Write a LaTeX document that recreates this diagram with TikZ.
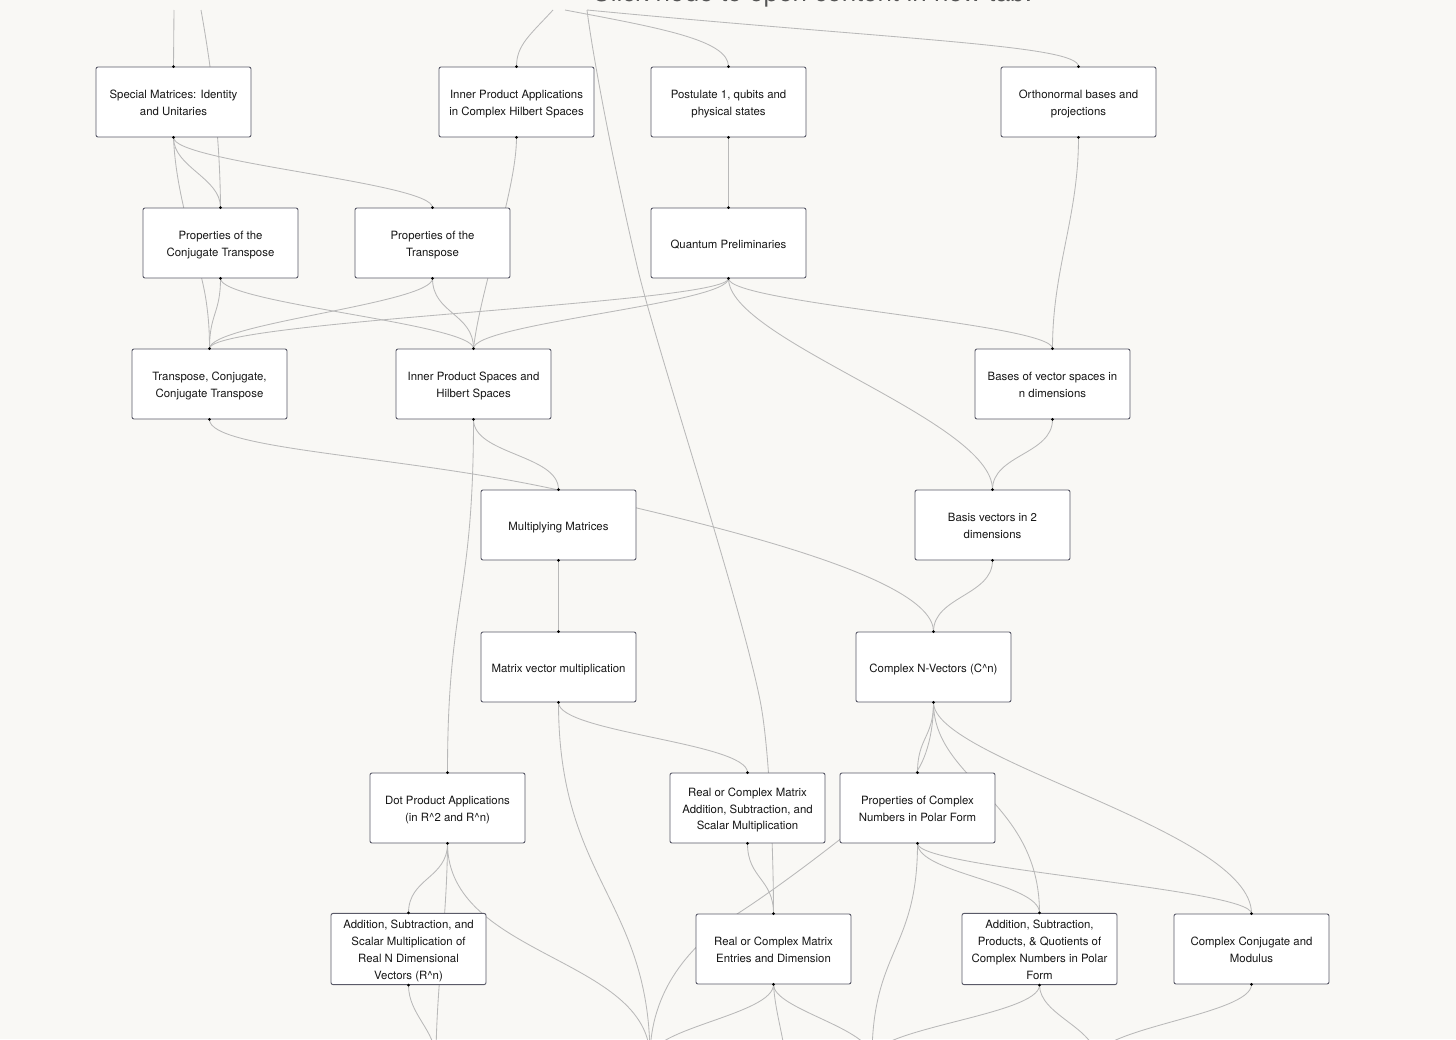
\documentclass[tikz,border=0pt]{standalone}
\usepackage{fontspec}
\setmainfont{TeX Gyre Heros}
\definecolor{bgc}{HTML}{F9F8F5}
\definecolor{edgec}{HTML}{B9B9B9}
\definecolor{boxline}{HTML}{5A5A68}
\definecolor{txt}{HTML}{161616}
\definecolor{titlec}{HTML}{555555}
\pgfdeclarelayer{bglayer}
\pgfdeclarelayer{edgelayer}
\pgfsetlayers{bglayer,edgelayer,main}
\newcommand{\nodetxt}[1]{\raisebox{-1.8pt}[\height][\depth]{\begin{tabular}{@{}c@{}}#1\end{tabular}}}
\tikzset{
  topic/.style={draw=boxline, line width=0.9pt, fill=white, rounded corners=2pt,
    minimum width=155pt, minimum height=70pt, inner sep=2pt, align=center,
    text=txt, font=\fontsize{11.4}{16.8}\selectfont},
  conn/.style={draw=edgec, line width=0.85pt},
}
\begin{document}
\begin{tikzpicture}[x=1pt,y=-1pt]
\useasboundingbox (0,0) rectangle (1456,1039);
\begin{pgfonlayer}{bglayer}
\fill[bgc] (0,0) rectangle (1456,1039);
\end{pgfonlayer}

\node[font=\fontsize{26}{30}\selectfont, text=titlec, anchor=base] (title) at (812,1.5) {Click node to open content in new tab.};

% nodes
\node[topic] (sm)  at (173.5,102) {\nodetxt{Special Matrices: Identity\\and Unitaries}};
\node[topic] (ipa) at (516.5,102) {\nodetxt{Inner Product Applications\\in Complex Hilbert Spaces}};
\node[topic] (p1)  at (728.5,102) {\nodetxt{Postulate 1, qubits and\\physical states}};
\node[topic] (ob)  at (1078.5,102) {\nodetxt{Orthonormal bases and\\projections}};
\node[topic] (pct) at (220.5,243) {\nodetxt{Properties of the\\Conjugate Transpose}};
\node[topic] (pt)  at (432.5,243) {\nodetxt{Properties of the\\Transpose}};
\node[topic] (qp)  at (728.5,243) {\nodetxt{Quantum Preliminaries}};
\node[topic] (tcc) at (209.5,384) {\nodetxt{Transpose, Conjugate,\\Conjugate Transpose}};
\node[topic] (ips) at (473.5,384) {\nodetxt{Inner Product Spaces and\\Hilbert Spaces}};
\node[topic] (bvs) at (1052.5,384) {\nodetxt{Bases of vector spaces in\\n dimensions}};
\node[topic] (mm)  at (558.5,525) {\nodetxt{Multiplying Matrices}};
\node[topic] (bv2) at (992.5,525) {\nodetxt{Basis vectors in 2\\dimensions}};
\node[topic] (mvm) at (558.5,667) {\nodetxt{Matrix vector multiplication}};
\node[topic] (cnv) at (933.5,667) {\nodetxt{Complex N-Vectors (C\textasciicircum n)}};
\node[topic] (dpa) at (447.5,808) {\nodetxt{Dot Product Applications\\(in R\textasciicircum 2 and R\textasciicircum n)}};
\node[topic] (rcm) at (747.5,808) {\nodetxt{Real or Complex Matrix\\Addition, Subtraction, and\\Scalar Multiplication}};
\node[topic] (pcn) at (917.5,808) {\nodetxt{Properties of Complex\\Numbers in Polar Form}};
\node[topic] (asr) at (408.5,949) {\nodetxt{Addition, Subtraction, and\\Scalar Multiplication of\\Real N Dimensional\\Vectors (R\textasciicircum n)}};
\node[topic] (rce) at (773.5,949) {\nodetxt{Real or Complex Matrix\\Entries and Dimension}};
\node[topic] (apq) at (1039.5,949) {\nodetxt{Addition, Subtraction,\\Products, \& Quotients of\\Complex Numbers in Polar\\Form}};
\node[topic] (ccm) at (1251.5,949) {\nodetxt{Complex Conjugate and\\Modulus}};

% free ends
\coordinate (t1) at (174,10);
\coordinate (t2) at (201,10);
\coordinate (t3) at (553,10);
\coordinate (t4) at (565,10);
\coordinate (t5) at (587,10);
\coordinate (b0) at (436,1060);
\coordinate (b1) at (650,1058);
\coordinate (b2) at (872,1058);
\coordinate (b3) at (1096,1058);
\coordinate (b4) at (786,1060);

\begin{pgfonlayer}{edgelayer}
% from above
\draw[conn] (t1) -- (sm.north);
\draw[conn] (t2) .. controls (210,60) and (220,130) .. (pct.north);
\draw[conn] (t3) .. controls (530,35) and (516.5,45) .. (ipa.north);
\draw[conn] (t4) .. controls (660,28) and (728.5,40) .. (p1.north);
\draw[conn] (t5) .. controls (900,40) and (1078.5,45) .. (ob.north);
\draw[conn] (t5) .. controls (592,50) and (610,150) .. (638,270)
  .. controls (660,360) and (740,600) .. (760,700)
  .. controls (770,750) and (773.5,860) .. (rce.north);
% row 1 -> 2
\draw[conn] (sm.south) .. controls +(0,30) and +(0,-30) .. (pct.north);
\draw[conn] (sm.south) .. controls +(0,25) and +(0,-25) .. (pt.north);
\draw[conn] (sm.south) .. controls (176,200) and (200,260) .. (206,300)
  .. controls (209,320) and (209.5,335) .. (tcc.north);
\draw[conn] (ipa.south) .. controls (516.5,190) and (480,290) .. (ips.north);
\draw[conn] (p1.south) -- (qp.north);
\draw[conn] (ob.south) .. controls +(0,80) and +(0,-80) .. (bvs.north);
% row 2 -> 3
\draw[conn] (pct.south) .. controls +(0,35) and +(0,-35) .. (tcc.north);
\draw[conn] (pct.south) .. controls +(0,25) and +(0,-25) .. (ips.north);
\draw[conn] (pt.south) .. controls +(0,25) and +(0,-25) .. (tcc.north);
\draw[conn] (pt.south) .. controls +(0,35) and +(0,-35) .. (ips.north);
\draw[conn] (qp.south) .. controls +(0,25) and +(0,-28) .. (tcc.north);
\draw[conn] (qp.south) .. controls +(0,25) and +(0,-25) .. (ips.north);
\draw[conn] (qp.south) .. controls +(0,25) and +(0,-25) .. (bvs.north);
\draw[conn] (qp.south) .. controls (728.5,340) and (992.5,420) .. (bv2.north);
% row 3 -> 4
\draw[conn] (tcc.south) .. controls (209.5,450) and (400,455) .. (558.5,490)
  .. controls (700,522) and (933.5,575) .. (cnv.north);
\draw[conn] (ips.south) .. controls +(0,35) and +(0,-35) .. (mm.north);
\draw[conn] (ips.south) .. controls (473.5,600) and (447.5,600) .. (dpa.north);
\draw[conn] (bvs.south) .. controls +(0,35) and +(0,-35) .. (bv2.north);
% row 4 -> 5
\draw[conn] (mm.south) -- (mvm.north);
\draw[conn] (bv2.south) .. controls +(0,35) and +(0,-35) .. (cnv.north);
% row 5 -> 6
\draw[conn] (mvm.south) .. controls +(0,30) and +(0,-30) .. (rcm.north);
\draw[conn] (mvm.south) .. controls (558.5,880) and (650,900) .. (b1);
\draw[conn] (cnv.south) .. controls +(0,35) and +(0,-35) .. (pcn.north);
\draw[conn] (cnv.south) .. controls (933.5,735) and (925,765) .. (910,780)
  .. controls (880,810) and (790,880) .. (737,914)
  .. controls (690,945) and (650,990) .. (b1);
\draw[conn] (cnv.south) .. controls (933.5,780) and (1039.5,800) .. (apq.north);
\draw[conn] (cnv.south) .. controls (933.5,760) and (1251.5,830) .. (ccm.north);
% row 6 -> 7
\draw[conn] (dpa.south) .. controls +(0,35) and +(0,-35) .. (asr.north);
\draw[conn] (dpa.south) .. controls (447,920) and (436,990) .. (b0);
\draw[conn] (dpa.south) .. controls (447.5,957) and (650,957) .. (b1);
\draw[conn] (rcm.south) .. controls +(0,35) and +(0,-35) .. (rce.north);
\draw[conn] (pcn.south) .. controls +(0,30) and +(0,-30) .. (apq.north);
\draw[conn] (pcn.south) .. controls +(0,25) and +(0,-25) .. (ccm.north);
\draw[conn] (pcn.south) .. controls (917.5,950) and (872,950) .. (b2);
% row 7 -> below
\draw[conn] (asr.south) .. controls +(0,30) and +(0,-30) .. (b0);
\draw[conn] (rce.south) .. controls +(0,30) and +(0,-30) .. (b1);
\draw[conn] (rce.south) .. controls (775,1010) and (782,1030) .. (b4);
\draw[conn] (rce.south) .. controls +(0,25) and +(0,-30) .. (b2);
\draw[conn] (apq.south) .. controls +(0,30) and +(0,-30) .. (b2);
\draw[conn] (apq.south) .. controls +(0,30) and +(0,-30) .. (b3);
\draw[conn] (ccm.south) .. controls +(0,30) and +(0,-30) .. (b3);
\end{pgfonlayer}

% attachment dots
\foreach \n in {sm,ipa,p1,ob,pct,pt,qp,tcc,ips,bvs,mm,bv2,mvm,cnv,dpa,rcm,pcn,asr,rce,apq,ccm}{
  \fill[black] (\n.north) circle (1.5pt) (\n.south) circle (1.5pt);
}
\end{tikzpicture}
\end{document}
